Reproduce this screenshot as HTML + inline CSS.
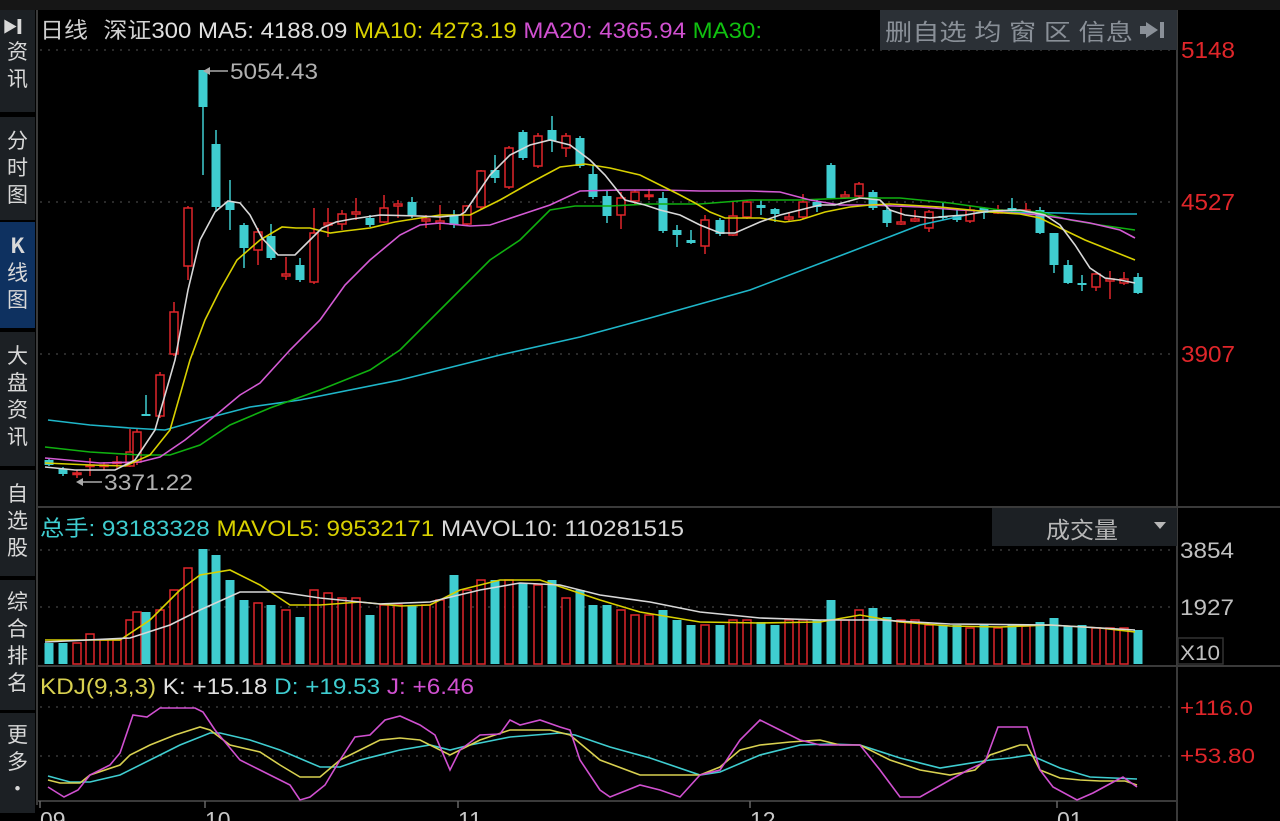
<!DOCTYPE html>
<html><head><meta charset="utf-8">
<style>
html,body{margin:0;padding:0;background:#000;width:1280px;height:821px;overflow:hidden;font-family:"Liberation Sans","Noto Sans CJK SC",sans-serif;}
#side{position:absolute;left:0;top:10px;width:36px;height:811px;background:#000;}
.b{position:absolute;left:0;width:35px;background:#1c2024;color:#d8d8d8;font-size:21px;line-height:27px;text-align:center;font-family:"Noto Sans CJK SC",sans-serif;}
.b.on{background:#0e3160;}
#top{position:absolute;left:0;top:0;width:1280px;height:10px;background:#161616;}
svg{position:absolute;left:0;top:0;}
</style></head><body>
<div id="top"></div>
<div id="side">
<div class="b" style="top:0;height:102px;padding-top:6px;box-sizing:border-box;font-size:15px;line-height:22px">▶▎<br><span style="font-size:21px;line-height:27px">资<br>讯</span></div>
<div class="b" style="top:107px;height:103px;padding-top:10px;box-sizing:border-box">分<br>时<br>图</div>
<div class="b on" style="top:212px;height:106px;padding-top:10px;box-sizing:border-box"><b>K</b><br>线<br>图</div>
<div class="b" style="top:322px;height:134px;padding-top:10px;box-sizing:border-box">大<br>盘<br>资<br>讯</div>
<div class="b" style="top:460px;height:106px;padding-top:10px;box-sizing:border-box">自<br>选<br>股</div>
<div class="b" style="top:570px;height:130px;padding-top:8px;box-sizing:border-box">综<br>合<br>排<br>名</div>
<div class="b" style="top:703px;height:100px;padding-top:8px;box-sizing:border-box">更<br>多<br>·</div>
</div>
<svg id="s" width="1280" height="821" xmlns="http://www.w3.org/2000/svg"></svg>
<script>
var S=document.getElementById('s'),h='';
function L(x1,y1,x2,y2,c,w,d){h+='<line x1="'+x1+'" y1="'+y1+'" x2="'+x2+'" y2="'+y2+'" stroke="'+c+'" stroke-width="'+(w||1)+'"'+(d?' stroke-dasharray="'+d+'"':'')+'/>';}
function R(x,y,w,hh,f,st){h+='<rect x="'+x+'" y="'+y+'" width="'+w+'" height="'+hh+'" fill="'+f+'"'+(st?' stroke="'+st+'" stroke-width="1.5"':'')+'/>';}
function T(x,y,t,c,s,tl){h+='<text x="'+x+'" y="'+y+'" fill="'+c+'" font-size="'+(s||20)+'"'+(tl?' textLength="'+tl+'" lengthAdjust="spacingAndGlyphs"':'')+'>'+t+'</text>';}
function P(pts,c,w){h+='<polyline fill="none" stroke="'+c+'" stroke-width="'+(w||1.6)+'" points="'+pts.map(function(p){return p[0]+','+p[1]}).join(' ')+'"/>';}
L(37,10,37,805,'#3a3a3a',2);L(1177,10,1177,821,'#3a3a3a',2);
L(37,507,1280,507,'#3a3a3a',2);L(37,666,1280,666,'#3a3a3a',2);L(37,801,1177,801,'#3a3a3a',2);
[50,202,354].forEach(function(y){L(40,y,1176,y,'#555',1,'2 6');});
[550,607].forEach(function(y){L(40,y,1176,y,'#555',1,'2 6');});
[707,756].forEach(function(y){L(40,y,1176,y,'#555',1,'2 6');});
var C=[[49,460,465,458,466],[63,469,474,467,476],[77,474,473,470,478],[90,466,465,458,476],[104,466,465,462,470],[117,463,462,456,468],[130,466,452,429,467],[137,462,432,429,465],[146,414,416,395,416],[160,416,375,372,418],[174,354,312,302,356],[188,266,208,206,280],[203,70,107,70,175],[216,144,207,130,211],[230,202,210,180,230],[244,225,248,223,268],[258,250,232,228,265],[271,236,258,224,260],[286,276,274,257,280],[300,265,280,258,282],[314,282,233,208,284],[328,225,223,208,237],[342,224,214,210,230],[356,214,212,198,220],[370,218,225,215,227],[384,222,208,195,223],[398,206,204,200,218],[412,202,215,197,218],[426,221,219,215,228],[440,223,221,205,230],[454,215,225,210,228],
[467,224,206,205,226],[481,207,171,170,210],[495,170,178,155,183],[509,187,148,146,189],[523,132,158,130,160],[538,166,136,133,168],[552,130,141,116,152],[566,148,136,133,157],[580,138,166,136,168],[593,174,197,166,199],[607,196,216,190,223],[621,215,198,192,229],[635,201,192,190,205],[649,196,195,189,200],[663,198,231,192,233],[677,230,235,225,247],[691,240,243,230,244],[705,246,220,215,254],[720,220,234,218,236],[733,235,216,202,236],[747,217,202,200,219],[761,205,208,200,215],[775,209,214,208,222],[789,219,217,212,222],[803,217,202,194,219],[817,202,207,200,212],[831,165,198,163,199],[845,197,195,191,199],[859,196,184,182,198],
[873,192,208,190,210],[887,210,223,207,227],[901,224,222,208,225],[915,221,219,210,222],[929,228,212,210,232],[943,216,218,203,220],[957,216,220,208,222],[970,221,210,206,223],[984,208,213,207,219],[998,213,210,205,214],[1012,208,211,198,212],[1026,212,210,203,213],[1040,210,233,207,234],[1054,233,265,233,273],[1068,265,283,260,284],[1082,283,285,275,291],[1096,287,274,273,291],[1110,281,279,271,299],[1124,283,279,272,285],[1138,277,293,273,294]];
var RED='#e0262a',CY='#3fcdd0';
var V=[643,643,643,634,640,640,620,612,612,610,590,568,549,555,580,600,603,605,610,617,590,593,598,598,615,605,605,605,605,600,575,590,580,580,580,583,585,580,598,590,605,605,610,615,615,610,620,625,625,625,620,620,622,625,620,620,620,600,620,610,608,617,620,620,625,625,625,628,625,628,625,626,622,618,626,625,628,628,628,630,632];
C.forEach(function(c,i){var up=c[2]<c[1],col=up?RED:CY;var t=Math.min(c[1],c[2]),b=Math.max(c[1],c[2]);if(b-t<1.5){b=t+1.5;}
L(c[0],c[3],c[0],t,col,1.5);L(c[0],b,c[0],c[4],col,1.5);
if(up)R(c[0]-4,t,8,b-t,'#000',col);else R(c[0]-4.5,t,9,b-t,col);
var vt=V[i]||628;if(up)R(c[0]-4,vt,8,664-vt,'#000',col);else R(c[0]-4.5,vt,9,664-vt,col);});
P([[48,420],[90,425],[130,428],[165,430],[200,420],[250,407],[300,400],[400,380],[500,355],[580,337],[650,318],[750,290],[850,252],[920,225],[980,212],[1000,212],[1060,213],[1090,214],[1137,214]],'#1fb6c9');
P([[45,447],[90,452],[140,455],[170,455],[200,445],[230,425],[270,408],[320,390],[370,370],[400,350],[430,320],[460,290],[490,260],[520,240],[550,210],[575,206],[610,206],[650,204],[700,204],[750,200],[800,200],[850,198],[900,198],[950,203],[1000,210],[1040,212],[1070,220],[1100,225],[1135,230]],'#10b010');
P([[45,458],[100,463],[140,462],[160,457],[185,440],[210,420],[240,395],[260,383],[290,350],[320,320],[345,285],[370,260],[400,235],[420,225],[440,223],[470,226],[490,225],[520,215],[550,205],[580,191],[620,190],[660,190],[700,191],[750,191],[780,192],[810,200],[840,205],[870,205],[920,207],[960,210],[1000,212],[1040,215],[1060,218],[1090,223],[1120,230],[1135,238]],'#d45ad4');
P([[45,463],[90,465],[125,466],[150,455],[170,430],[190,360],[205,320],[220,290],[237,260],[260,240],[282,227],[296,228],[310,228],[330,233],[345,231],[370,228],[395,222],[420,218],[440,215],[460,215],[470,215],[500,200],[530,183],[560,167],[585,164],[610,168],[640,175],[660,185],[680,195],[695,203],[710,212],[725,218],[760,218],[785,222],[800,220],[825,212],[850,207],[870,205],[890,204],[940,207],[990,212],[1020,214],[1040,218],[1060,228],[1085,240],[1110,250],[1135,260]],'#d8d000');
P([[45,467],[75,470],[115,470],[135,460],[155,430],[175,360],[188,290],[200,240],[215,212],[228,201],[240,203],[250,215],[262,238],[278,255],[295,255],[310,240],[322,228],[336,222],[352,219],[380,215],[420,216],[440,217],[460,215],[465,212],[490,175],[510,155],[530,145],[550,140],[570,145],[590,160],[605,175],[625,200],[645,205],[660,210],[680,215],[700,225],[720,233],[735,233],[760,222],[780,215],[800,210],[820,205],[835,205],[860,198],[880,200],[890,210],[905,215],[930,218],[950,216],[965,215],[990,211],[1020,210],[1045,215],[1060,225],[1075,245],[1090,268],[1105,278],[1120,280],[1135,283]],'#d8d8d8');
L(207,71,228,71,'#aaa',1.5);h+='<polygon points="203,71 210,67 210,75" fill="#aaa"/>';T(230,79,'5054.43','#b0b0b0',22,88);
L(80,482,102,482,'#aaa',1.5);h+='<polygon points="76,482 83,478 83,486" fill="#aaa"/>';T(104,490,'3371.22','#b0b0b0',22,89);
P([[45,640],[120,640],[150,620],[180,590],[200,575],[230,570],[260,585],[290,605],[320,605],[360,602],[400,606],[430,605],[460,590],[500,580],[540,580],[570,590],[600,600],[640,612],[700,622],[760,623],[820,622],[860,615],[900,622],[950,626],[1000,627],[1050,625],[1100,628],[1135,632]],'#d8d000');
P([[45,642],[130,638],[170,625],[200,610],[240,592],[280,592],[320,598],[380,604],[430,602],[480,590],[520,583],[560,585],[600,595],[650,602],[700,612],[760,618],[820,620],[880,620],[950,624],[1050,625],[1135,630]],'#d8d8d8');
P([[48,776],[70,782],[90,782],[120,775],[150,760],[180,745],[210,733],[220,733],[250,740],[280,750],[320,767],[340,767],[360,760],[400,750],[430,745],[450,750],[470,745],[510,737],[560,733],[575,735],[610,747],[650,758],[700,775],[720,772],[760,755],[800,745],[830,744],[860,745],[900,758],[940,768],[990,760],[1010,758],[1030,755],[1060,768],[1090,777],[1137,779]],'#3fcdd0');
P([[48,780],[60,783],[80,783],[90,775],[120,765],[130,755],[150,745],[175,735],[200,727],[210,730],[230,745],[260,752],[280,765],[300,777],[320,777],[340,760],[360,750],[380,740],[400,738],[420,740],[450,755],[480,740],[510,730],[550,730],[570,735],[600,760],[640,775],[680,775],[700,775],[720,767],[740,750],[760,745],[790,742],[820,740],[840,745],[860,745],[890,760],[920,770],[950,775],[975,770],[990,755],[1020,745],[1027,745],[1040,770],[1060,778],[1080,780],[1100,781],[1125,781],[1137,785]],'#d8d050');
P([[48,787],[64,797],[78,790],[90,775],[110,765],[120,753],[133,715],[147,717],[160,708],[195,708],[203,712],[215,730],[240,760],[260,770],[290,785],[300,800],[310,797],[325,785],[340,760],[355,737],[370,735],[385,720],[400,716],[420,725],[435,735],[450,770],[460,750],[480,735],[500,734],[510,720],[520,725],[540,720],[560,727],[570,730],[580,760],[600,790],[610,797],[640,785],[660,790],[680,797],[700,775],[720,770],[740,740],[760,720],[780,730],[800,740],[820,745],[840,745],[860,745],[880,770],[900,797],[920,797],[950,780],[968,770],[985,762],[998,727],[1027,727],[1040,770],[1053,787],[1077,800],[1093,793],[1117,780],[1123,777],[1137,787]],'#d050d0');
[[40,'09'],[205,'10'],[458,'11'],[750,'12'],[1057,'01']].forEach(function(m){L(m[0],801,m[0],808,'#666',1.5);T(m[0],828,m[1],'#c8c8c8',23);});
T(1181,58,'5148',RED,23,54);T(1181,210,'4527',RED,23,54);T(1181,362,'3907',RED,23,54);
T(1180,558,'3854','#c0c0c0',22,54);T(1180,615,'1927','#c0c0c0',22,54);
R(1178,638,45,26,'#000','#333');T(1180,660,'X10','#c0c0c0',21,40);
T(1180,715,'+116.0',RED,21,73);T(1180,763,'+53.80',RED,21,75);
h+='<text x="40" y="38" font-size="22" fill="#d0d0d0" textLength="722" lengthAdjust="spacingAndGlyphs">日线 <tspan dx="8">深证</tspan><tspan fill="#e0e0e0">300 MA5: 4188.09 </tspan><tspan fill="#d8d000">MA10: 4273.19 </tspan><tspan fill="#d050d0">MA20: 4365.94 </tspan><tspan fill="#10c010">MA30:</tspan></text>';
R(880,10,297,40,'#2b3036');
T(885,40,'删自选  均  窗  区  信息','#8a9098',23,248);
h+='<polygon points="1146,22 1158,30 1146,38 1146,34 1140,34 1140,26 1146,26" fill="#8a9098"/>';R(1160,22,4,16,'#8a9098');
h+='<text x="40" y="536" font-size="22" fill="#3fcdd0" textLength="644" lengthAdjust="spacingAndGlyphs">总手: 93183328 <tspan fill="#d8d000">MAVOL5: 99532171 </tspan><tspan fill="#d8d8d8">MAVOL10: 110281515</tspan></text>';
R(992,508,185,38,'#1c2024');T(1046,538,'成交量','#b8b8b8',23,72);h+='<polygon points="1154,522 1166,522 1160,529" fill="#b8b8b8"/>';
h+='<text x="40" y="694" font-size="22" fill="#d8d050" textLength="434" lengthAdjust="spacingAndGlyphs">KDJ(9,3,3) <tspan fill="#e0e0e0">K: +15.18 </tspan><tspan fill="#3fcdd0">D: +19.53 </tspan><tspan fill="#d050d0">J: +6.46</tspan></text>';
S.innerHTML=h;
</script>
</body></html>
